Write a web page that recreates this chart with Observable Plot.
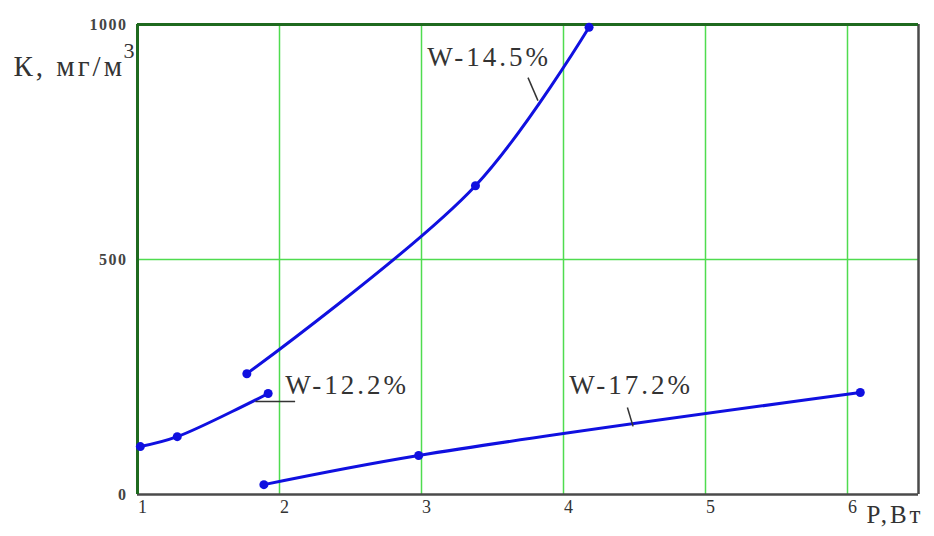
<!DOCTYPE html>
<html><head><meta charset="utf-8">
<script src="https://cdn.jsdelivr.net/npm/d3@7"></script>
<script src="https://cdn.jsdelivr.net/npm/@observablehq/plot@0.6"></script>
<style>
body{margin:0;background:#fff}
</style></head><body><div id="chart"></div>
<script>
const seriesNames = ["W-12.2%", "W-14.5%", "W-17.2%"];
const p122 = [1.02, 1.28, 1.92];
const k122 = [102, 123, 215];
const p145 = [1.77, 3.38, 4.18];
const k145 = [257, 657, 994];
const p172 = [1.89, 2.98, 6.09];
const k172 = [21, 83, 217];
const xTicks = [1, 2, 3, 4, 5, 6];
const yTicks = [0, 500, 1000];
const gridX = [2, 3, 4, 5, 6];
const gridY = [500];
const labelP = [2.04, 3.04, 4.04];
const labelK = [232, 930, 232];
const leaderP1 = [1.83, 3.75, 4.45];
const leaderK1 = [198, 887, 185];
const leaderP2 = [2.11, 3.82, 4.49];
const leaderK2 = [198, 838, 145];

const pts = [];
[[p122, k122], [p145, k145], [p172, k172]].forEach(([ps, ks], i) =>
  ps.forEach((p, j) => pts.push({s: seriesNames[i], p, k: ks[j]})));
const labels = seriesNames.map((s, i) => ({s, p: labelP[i], k: labelK[i]}));
const leaders = seriesNames.map((s, i) => ({x1: leaderP1[i], y1: leaderK1[i], x2: leaderP2[i], y2: leaderK2[i]}));

const serif = "Liberation Serif, Times New Roman, serif";
const chart = Plot.plot({
  width: 934, height: 536,
  marginLeft: 137, marginRight: 16, marginTop: 24, marginBottom: 42,
  style: {fontFamily: serif, background: "#fff"},
  x: {domain: [1, 6.5], axis: null},
  y: {domain: [0, 1000], axis: null},
  marks: [
    Plot.ruleX(gridX, {stroke: "#4fdc4f", strokeWidth: 1.5}),
    Plot.ruleY(gridY, {stroke: "#4fdc4f", strokeWidth: 1.5}),
    Plot.ruleY([0], {stroke: "#4a4a4a", strokeWidth: 2.5}),
    Plot.ruleX([6.5], {stroke: "#4a4a4a", strokeWidth: 2.5}),
    Plot.ruleX([1], {stroke: "#1f6a1f", strokeWidth: 3}),
    Plot.ruleY([1000], {stroke: "#1f6a1f", strokeWidth: 3}),
    Plot.text(xTicks, {x: d => d, frameAnchor: "bottom", dy: 18, dx: 5, text: d => String(d), fontSize: 18, fill: "#333"}),
    Plot.text(yTicks, {y: d => d, frameAnchor: "left", dx: -10, textAnchor: "end", text: d => String(d), fontSize: 16, fontWeight: "bold", fill: "#444"}),
    Plot.line(pts, {x: "p", y: "k", z: "s", curve: "catmull-rom", stroke: "#1010e0", strokeWidth: 3}),
    Plot.dot(pts, {x: "p", y: "k", r: 4.5, fill: "#1010e0"}),
    Plot.link(leaders, {x1: "x1", y1: "y1", x2: "x2", y2: "y2", stroke: "#333", strokeWidth: 1.5}),
    Plot.text(labels, {x: "p", y: "k", text: "s", textAnchor: "start", fontSize: 27, fill: "#333"}),
    Plot.text(["К, мг/м"], {frameAnchor: "top-left", dx: -124, dy: 31, textAnchor: "start", fontSize: 29, fill: "#333"}),
    Plot.text(["3"], {frameAnchor: "top-left", dx: -14, dy: 18, textAnchor: "start", fontSize: 22, fill: "#333"}),
    Plot.text(["P,Вт"], {frameAnchor: "bottom-right", dx: -52, dy: 28, textAnchor: "start", fontSize: 25, fill: "#333"})
  ]
});
d3.select(chart).selectAll('g[aria-label="text"]').each(function () {
  const t = this.querySelector("text");
  if (!t) return;
  if (/W-|К,|P,/.test(t.textContent)) this.style.letterSpacing = "3px";
  else if (/^(0|500|1000)$/.test(t.textContent)) this.style.letterSpacing = "1.5px";
});
document.getElementById("chart").append(chart);
</script></body></html>
